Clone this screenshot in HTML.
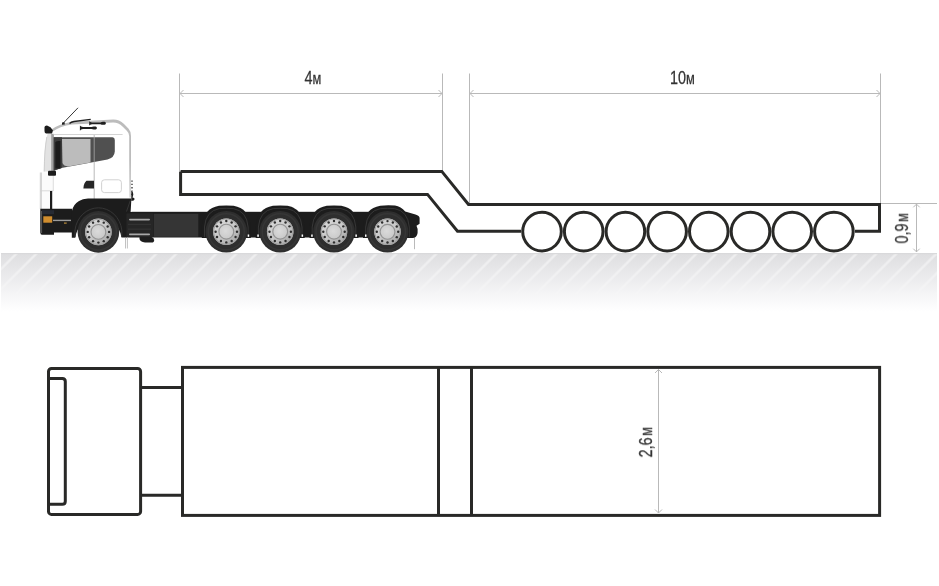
<!DOCTYPE html>
<html><head><meta charset="utf-8"><style>
html,body{margin:0;padding:0;background:#fff;width:939px;height:586px;overflow:hidden}
svg{display:block}
text{font-family:"Liberation Sans",sans-serif;fill:#333;stroke:#333;stroke-width:0.25px}
</style></head><body>
<svg width="939" height="586" viewBox="0 0 939 586">
<defs>
<linearGradient id="gnd" x1="0" y1="0" x2="0" y2="1">
<stop offset="0" stop-color="#dedee0"/>
<stop offset="0.45" stop-color="#ececee"/>
<stop offset="0.72" stop-color="#f6f6f7"/>
<stop offset="1" stop-color="#ffffff"/>
</linearGradient>
<linearGradient id="gfade" x1="0" y1="0" x2="0" y2="1">
<stop offset="0" stop-color="#fff" stop-opacity="0.5"/>
<stop offset="0.5" stop-color="#fff" stop-opacity="0.3"/>
<stop offset="0.8" stop-color="#fff" stop-opacity="0"/>
</linearGradient>
<pattern id="stripes" patternUnits="userSpaceOnUse" width="14.142" height="20" patternTransform="rotate(45)">
<rect x="5.9" y="0" width="2.4" height="20" fill="#fff"/>
</pattern>
<mask id="smask"><rect x="0" y="253" width="939" height="59" fill="url(#gfade)"/></mask>
<linearGradient id="rim" x1="0.2" y1="0.1" x2="0.8" y2="0.95">
<stop offset="0" stop-color="#d6d6d6"/>
<stop offset="0.5" stop-color="#c8c8c8"/>
<stop offset="1" stop-color="#a8a8a8"/>
</linearGradient>
<radialGradient id="hub" cx="0.45" cy="0.45" r="0.6">
<stop offset="0" stop-color="#dadada"/>
<stop offset="1" stop-color="#c8c8c8"/>
</radialGradient>
<g id="wheel">
<circle r="20.8" fill="#2e2e2e"/>
<circle r="18" fill="none" stroke="#363636" stroke-width="1.5"/>
<circle r="13.3" fill="url(#rim)"/>
<circle r="12.7" fill="none" stroke="#a2a2a2" stroke-width="1.1"/>
<g fill="#2e2e2e"><circle cx="0.00" cy="-10.70" r="1.2"/><circle cx="5.35" cy="-9.27" r="1.2"/><circle cx="9.27" cy="-5.35" r="1.2"/><circle cx="10.70" cy="-0.00" r="1.2"/><circle cx="9.27" cy="5.35" r="1.2"/><circle cx="5.35" cy="9.27" r="1.2"/><circle cx="0.00" cy="10.70" r="1.2"/><circle cx="-5.35" cy="9.27" r="1.2"/><circle cx="-9.27" cy="5.35" r="1.2"/><circle cx="-10.70" cy="0.00" r="1.2"/><circle cx="-9.27" cy="-5.35" r="1.2"/><circle cx="-5.35" cy="-9.27" r="1.2"/></g>
<circle r="7.4" fill="url(#hub)" stroke="#939393" stroke-width="1.1"/>
</g>
</defs>

<!-- ground -->
<rect x="1" y="253" width="936" height="59" fill="url(#gnd)"/>
<rect x="1" y="253" width="936" height="59" fill="url(#stripes)" mask="url(#smask)"/>
<rect x="1" y="253" width="936" height="1.2" fill="#d9d9db"/>

<!-- dimension lines -->
<g stroke="#b9b9b9" stroke-width="1" fill="none">
<line x1="179.5" y1="73.5" x2="179.5" y2="171"/>
<line x1="442.5" y1="73.5" x2="442.5" y2="171"/>
<line x1="469.5" y1="73.5" x2="469.5" y2="204"/>
<line x1="880.5" y1="73.5" x2="880.5" y2="204"/>
<line x1="180" y1="93.5" x2="442" y2="93.5"/>
<line x1="470" y1="93.5" x2="880" y2="93.5"/>
<path d="M183.5 90 L180 93.5 L183.5 97 M438.5 90 L442 93.5 L438.5 97"/>
<path d="M473.5 90 L470 93.5 L473.5 97 M876.5 90 L880 93.5 L876.5 97"/>
<line x1="880" y1="203.5" x2="937" y2="203.5"/>
<line x1="916.5" y1="204" x2="916.5" y2="252"/>
<path d="M913.3 207.3 L916.5 204.1 L919.7 207.3 M913.3 248.7 L916.5 251.9 L919.7 248.7"/>
<line x1="658.5" y1="369.5" x2="658.5" y2="513"/>
<path d="M655 373 L658.5 369.5 L662 373 M655 509.5 L658.5 513 L662 509.5"/>
</g>

<!-- dimension texts --><g style="will-change:transform">
<text x="313" y="84" font-size="18" text-anchor="middle" transform="translate(313 0) scale(0.8 1) translate(-313 0)">4<tspan font-size="16">м</tspan></text>
<text x="682.5" y="84" font-size="18" text-anchor="middle" transform="translate(682.5 0) scale(0.8 1) translate(-682.5 0)">10<tspan font-size="16">м</tspan></text>
<text font-size="18" text-anchor="middle" transform="translate(908 228.3) rotate(-90) scale(0.8 1)">0,9<tspan font-size="16" dx="1.9">м</tspan></text>
<text font-size="18" text-anchor="middle" transform="translate(652 442.2) rotate(-90) scale(0.8 1)">2,6<tspan font-size="16" dx="1.9">м</tspan></text></g>

<!-- trailer side view -->
<g fill="none" stroke="#292927" stroke-width="3" stroke-linejoin="miter">
<path d="M180.6 171.4 H441.8 L468.5 204.4 H879.5 V231.2 H855"/>
<path d="M180.6 171.4 V194.4 H427.5 L457.5 231.3 H521"/>
<circle cx="542" cy="231.6" r="19.3"/>
<circle cx="583.7" cy="231.6" r="19.3"/>
<circle cx="625.4" cy="231.6" r="19.3"/>
<circle cx="667.1" cy="231.6" r="19.3"/>
<circle cx="708.8" cy="231.6" r="19.3"/>
<circle cx="750.5" cy="231.6" r="19.3"/>
<circle cx="792.2" cy="231.6" r="19.3"/>
<circle cx="833.9" cy="231.6" r="19.3"/>
</g>

<!-- plan view -->
<g fill="none" stroke="#292927" stroke-width="3">
<rect x="48.5" y="368.5" width="92.1" height="145.9" rx="3"/>
<path d="M48.5 378.5 H62.3 Q65.3 378.5 65.3 381.5 V501.3 Q65.3 504.3 62.3 504.3 H48.5"/>
<path d="M140.6 387.5 H182.5 M140.6 495.3 H182.5"/>
<rect x="182.5" y="367.4" width="697.1" height="148"/>
<line x1="438.5" y1="367.4" x2="438.5" y2="515.4"/>
<line x1="471.5" y1="367.4" x2="471.5" y2="515.4"/>
</g>

<!-- TRUCK -->
<g id="truck">
<!-- chassis -->
<rect x="125" y="211.8" width="270" height="25.7" fill="#1c1c1c"/>
<!-- cab body -->
<path d="M39.8 211 V172.5 L43.8 171.5 Q44 150 46.6 137 Q49 131 54 129 Q70 123 90 120.8 L113 119.6 Q119 119.4 124 124 L128.6 128.8 Q131 131.5 131 136 L131.5 200 V212 H39.8 Z" fill="#fff"/>
<!-- roof band -->
<path d="M51.8 129.2 Q60 123.8 72 121.8 L113 119.6 Q119 119.4 124 124 L128.6 128.8 Q131 131.5 131 136 V160 L130.6 197.5 H129.6 L129.2 160 V136 Q129 132.8 126.8 130.8 L122.5 126.5 Q118.5 122.5 113 122.6 L72 124.4 Q60 126.2 53.2 131.2 Z" fill="#bcbcbc"/>
<!-- front upper (windshield side) -->
<path d="M43.8 171.5 Q44 150 46.6 137 L47.8 133.5 L53.9 133.5 V171.5 Z" fill="#e2e2e2"/>
<path d="M44.2 171.5 Q44.4 150 46.8 137" fill="none" stroke="#c8c8c8" stroke-width="0.8"/>
<path d="M51.2 134 H53.9 V171.5 H51.2 Z" fill="#a0a0a0"/>
<!-- front lower -->
<path d="M39.8 172.5 H53 V209 H39.8 Z" fill="#fbfbfb"/>
<path d="M39.8 172.5 H42 V209 H39.8 Z" fill="#d6d6d6"/>
<line x1="40" y1="190.8" x2="53.2" y2="190.8" stroke="#d0d0d0" stroke-width="0.8"/>
<line x1="53.3" y1="172.5" x2="53.3" y2="191" stroke="#d4d4d4" stroke-width="0.8"/>
<rect x="50" y="191" width="2.2" height="18" fill="#1e1e1e"/>
<!-- window top line -->
<line x1="53.5" y1="134.5" x2="122.6" y2="134.5" stroke="#cfcfcf" stroke-width="0.9"/>
<!-- window dark -->
<path d="M53.7 137.2 H112.5 Q114.8 137.4 114.8 140 V151.5 Q114.5 157.5 107.5 159.6 L90 162.8 L60 168.3 L53.7 171 Z" fill="#505050"/>
<!-- window light pane -->
<path d="M62 139 H90.5 V162.5 L68 166.5 Q63.5 166 62.5 163 Z" fill="#bcbcbc"/>
<!-- A pillar / mirror arm -->
<path d="M53.7 137.2 H62 V168 L53.7 170.5 Z" fill="#3c3c3c"/>
<path d="M55.3 142 Q57 140.5 60.5 141 V168.5 H55.3 Z" fill="#1c1c1c"/>
<!-- door line -->
<line x1="94.2" y1="135" x2="94.2" y2="199" stroke="#a8a8a8" stroke-width="0.8"/>
<!-- handle -->
<path d="M86.5 180.8 H94 V188.5 H83.4 Q83.5 183.5 86.5 180.8 Z" fill="#262626"/>
<!-- side panel -->
<rect x="101.6" y="179.8" width="19.8" height="12.8" rx="2.8" fill="none" stroke="#cdcdcd" stroke-width="0.9"/>
<!-- back edge dots -->
<line x1="132" y1="180.5" x2="132" y2="197" stroke="#2a2a2a" stroke-width="1.3" stroke-dasharray="1.3 2"/>
<!-- mirror -->
<path d="M44.5 127 Q44.8 125.3 47 125.4 L50.5 127.3 L53 130.5 L52 133.6 H46 Q44.5 133.2 44.5 131 Z" fill="#1c1c1c"/>
<rect x="48" y="170.8" width="8" height="5" rx="1" fill="#1c1c1c"/>
<!-- antenna -->
<line x1="78" y1="107.8" x2="62.8" y2="123.6" stroke="#1e1e1e" stroke-width="0.9"/>
<path d="M62 122.5 L64.6 122.3 L64.8 124.6 L62 124.8 Z" fill="#1e1e1e"/>
<!-- wiper rail -->
<path d="M69.5 123.4 Q71 122 74 121.5 L90.7 119.4" fill="none" stroke="#1e1e1e" stroke-width="1.3"/>
<!-- horns -->
<path d="M89.2 121.2 Q90 122.2 92 122.4 H100.5 Q101.5 121.8 103 121.8 H104.6 Q105.9 122 105.9 123.3 Q105.9 124.7 104.6 124.8 H103 Q101.5 124.8 100.5 124.3 H92 Q90 124.5 89.2 125.6 Z" fill="#1e1e1e"/>
<path d="M79.9 125.6 Q80.8 126.8 83 127 H91.5 Q92.5 126.5 93.8 126.5 H95.6 Q96.9 126.7 96.9 128 Q96.9 129.4 95.6 129.5 H93.8 Q92.5 129.5 91.5 129.1 H83 Q80.8 129.3 79.9 130.7 Z" fill="#1e1e1e"/>
<!-- bumper -->
<path d="M40.3 208.7 H72 V232.5 H54 V234.7 H42 Q40.3 234.7 40.3 232.5 Z" fill="#1c1c1c"/>
<rect x="40.3" y="211" width="1.8" height="22" fill="#555"/>
<rect x="42" y="210.2" width="12" height="4" fill="#262a33"/>
<rect x="43.3" y="216.3" width="8.9" height="6.4" fill="#d08d2e"/>
<rect x="53" y="219.7" width="18" height="1.4" fill="#9c9c9c"/>
<rect x="64" y="222.3" width="2.7" height="1.7" fill="#8a6a30"/>
<!-- front fender -->
<path d="M71.8 237.7 V211.5 Q73 204.5 79 201 Q82.5 198.8 88 198.4 H131.4 L130.6 212.5 H126.4 V237.5 H121.5 A23.3 23.3 0 0 0 75.3 237.7 Z" fill="#1c1c1c"/>
<path d="M126.5 211.5 L130.3 200.5" stroke="#3a3a3a" stroke-width="0.8"/>
<path d="M75 237 V230 A23.6 25.5 0 0 1 121.8 230 V237" fill="none" stroke="#363636" stroke-width="1"/>
<path d="M131.3 191 Q133.5 191.5 133.3 194.5 Q133 196.5 132.5 197.5 Q134.8 197.8 134.6 199.3 Q134.4 201 131.3 201 Z" fill="#1e1e1e"/>
<!-- step box -->
<rect x="126.4" y="213.5" width="27" height="23.5" fill="#262626"/>
<rect x="129" y="218.7" width="21" height="1.7" rx="0.8" fill="#a8a8a8"/>
<rect x="129" y="233.6" width="21" height="1.6" rx="0.8" fill="#a8a8a8"/>
<rect x="128" y="223.8" width="23" height="1" fill="#363636"/>
<rect x="128" y="228.6" width="23" height="1" fill="#363636"/>
<!-- tank -->
<rect x="153.8" y="213.8" width="44.5" height="23" fill="#353535"/>
<path d="M139.5 237 H151.5 Q154.2 237.8 154.2 240.2 Q154.2 242.6 151.5 242.6 H145 Q140 241.5 139.5 239 Z" fill="#1e1e1e"/>
<line x1="125.5" y1="237" x2="125.5" y2="248.5" stroke="#a8a8a8" stroke-width="0.7"/>
<line x1="127.4" y1="237" x2="127.4" y2="248.5" stroke="#a8a8a8" stroke-width="0.7"/>
<!-- rear fenders -->
<g fill="#1c1c1c">
<path d="M201.8 238 V226 Q203.5 208.5 219.0 205.8 Q226.3 205 233.6 205.8 Q249.1 208.5 250.8 226 V238 Z"/>
<path d="M255.7 238 V226 Q257.4 208.5 272.9 205.8 Q280.2 205 287.5 205.8 Q303.0 208.5 304.7 226 V238 Z"/>
<path d="M309.5 238 V226 Q311.2 208.5 326.7 205.8 Q334.0 205 341.3 205.8 Q356.8 208.5 358.5 226 V238 Z"/>
<path d="M363 238 V226 Q364.7 208.5 380.2 205.8 Q387.5 204.8 395 205.6 Q401 206.8 405.2 211.4 L415.5 214.4 Q419.6 215.5 419.6 218 V223.7 L416.5 225.7 Q418.2 228.5 417.6 233 Q416.8 238 412.5 238 H409 Z"/>
</g>
<g fill="none" stroke="#3a3a3a" stroke-width="0.9">
<path d="M204.5 237 V227 Q205.8 211 219.3 208.6 Q226.3 208 233.3 208.6 Q246.8 211 248.1 227 V237"/>
<path d="M258.4 237 V227 Q259.7 211 273.2 208.6 Q280.2 208 287.2 208.6 Q300.7 211 302.0 227 V237"/>
<path d="M312.2 237 V227 Q313.5 211 327.0 208.6 Q334.0 208 341.0 208.6 Q354.5 211 355.8 227 V237"/>
<path d="M365.7 237 V227 Q367.0 211 380.5 208.6 Q387.5 208 394.5 208.6 Q408.0 211 409.3 227 V237"/>
</g>
<g fill="#fff">
<rect x="247.7" y="234.5" width="1.5" height="2.3"/><rect x="257.3" y="234.5" width="1.5" height="2.3"/>
<rect x="301.6" y="234.5" width="1.5" height="2.3"/><rect x="311.2" y="234.5" width="1.5" height="2.3"/>
<rect x="355.4" y="234.5" width="1.5" height="2.3"/><rect x="365" y="234.5" width="1.5" height="2.3"/>
</g>
<line x1="414.5" y1="238" x2="414.5" y2="249.2" stroke="#a8a8a8" stroke-width="0.8"/>
<!-- wheels -->
<use href="#wheel" x="98.4" y="231.9"/>
<use href="#wheel" x="226.3" y="231.7"/>
<use href="#wheel" x="280.2" y="231.7"/>
<use href="#wheel" x="334" y="231.7"/>
<use href="#wheel" x="387.5" y="231.8"/>
</g>
</svg>
</body></html>
